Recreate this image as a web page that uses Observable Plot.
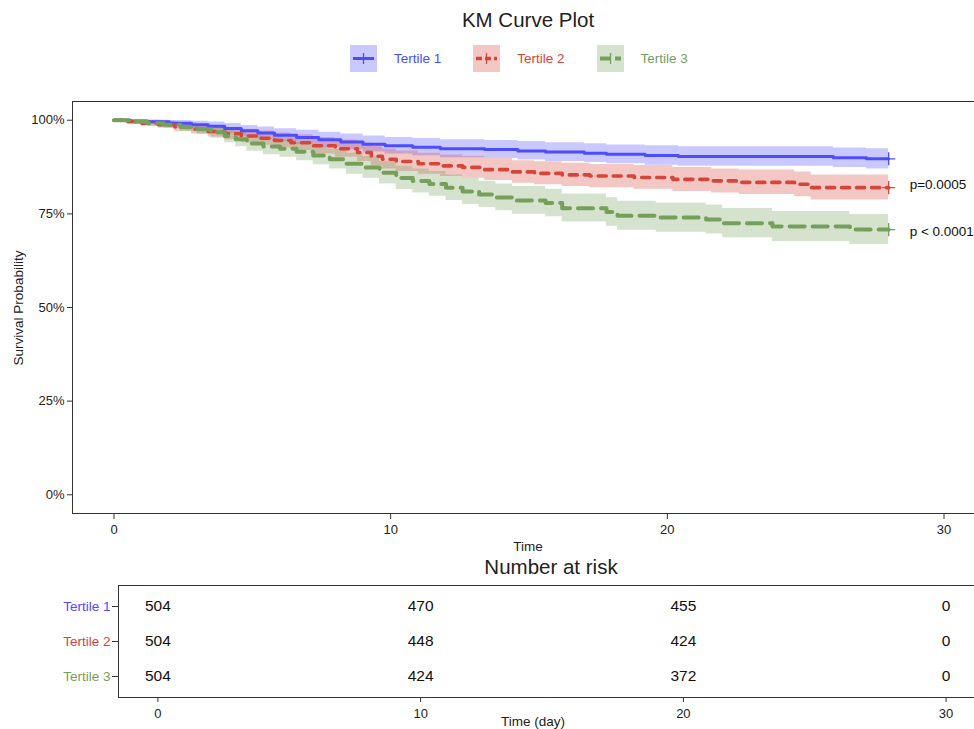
<!DOCTYPE html>
<html>
<head>
<meta charset="utf-8">
<script src="https://cdn.jsdelivr.net/npm/d3@7"></script>
<script src="https://cdn.jsdelivr.net/npm/@observablehq/plot@0.6"></script>
<style>
  html, body { margin: 0; padding: 0; overflow: hidden; background: white; }
  #wrap { position: relative; width: 974px; height: 729px; overflow: hidden; font-family: "Liberation Sans", Arial, sans-serif; color: #222; }
  .abs { position: absolute; white-space: nowrap; }
  .title { font-size: 20.5px; color: #222; transform: translate(-50%, -50%); }
  .axt { font-size: 13.5px; color: #222; transform: translate(-50%, -50%); }
  #legend { position: absolute; left: 350px; top: 44px; display: flex; align-items: center; height: 28px; }
  .item { display: flex; align-items: center; margin-right: 32px; }
  .item svg { margin-right: 17px; }
  .item span { font-size: 13.5px; }
  #main, #risk { width: 986px; }
  #main svg, #risk svg { max-width: none !important; display: block; }
</style>
</head>
<body>
<div id="wrap">
  <div class="abs title" style="left:528px; top:20px;">KM Curve Plot</div>
  <div id="legend"></div>
  <div id="main" class="abs" style="left:0; top:80px;"></div>
  <div class="abs axt" style="left:18px; top:308px; transform: translate(-50%,-50%) rotate(-90deg);">Survival Probability</div>
  <div class="abs axt" style="left:528px; top:546px;">Time</div>
  <div class="abs title" style="left:551px; top:567px;">Number at risk</div>
  <div id="risk" class="abs" style="left:0; top:575px;"></div>
  <div class="abs axt" style="left:533px; top:721px;">Time (day)</div>
</div>
<script>
// ---- Data ----
const seriesNames = ["Tertile 1", "Tertile 2", "Tertile 3"];

const t1Time  = [0, 0.6, 1.2, 2.0, 2.8, 3.4, 4.0, 4.6, 5.2, 5.8, 6.6, 7.4, 8.2, 9.0, 9.8, 10.8, 11.8, 13.4, 14.6, 15.6, 17.0, 17.8, 19.2, 20.4, 26.0, 27.2, 28.0];
const t1Surv  = [100, 99.8, 99.6, 99.2, 98.8, 98.4, 97.8, 97.2, 96.6, 96.0, 95.4, 94.8, 94.2, 93.6, 93.2, 92.8, 92.4, 92.2, 91.8, 91.5, 91.2, 90.9, 90.6, 90.3, 90.0, 89.7, 89.7];
const t1Lower = [100, 99.4, 99.0, 98.4, 97.8, 97.3, 96.5, 95.8, 95.0, 94.3, 93.5, 92.8, 92.1, 91.5, 91.0, 90.5, 90.0, 89.8, 89.4, 89.0, 88.7, 88.4, 88.0, 87.7, 87.4, 87.0, 87.0];
const t1Upper = [100, 100, 100, 99.9, 99.7, 99.5, 99.1, 98.6, 98.2, 97.7, 97.3, 96.8, 96.3, 95.8, 95.4, 95.1, 94.8, 94.6, 94.3, 94.0, 93.7, 93.4, 93.2, 92.9, 92.6, 92.4, 92.4];

const t2Time  = [0, 0.5, 1.0, 1.6, 2.2, 2.8, 3.4, 4.0, 4.6, 5.2, 5.8, 6.4, 7.2, 8.0, 8.8, 9.3, 9.7, 10.2, 11.0, 11.8, 12.6, 13.4, 14.4, 15.2, 16.2, 17.2, 18.8, 20.2, 21.6, 22.6, 24.6, 25.2, 28.0];
const t2Surv  = [100, 99.6, 99.2, 98.8, 98.2, 97.6, 97.0, 96.4, 95.8, 95.2, 94.6, 94.0, 93.2, 92.4, 91.4, 90.4, 89.6, 89.0, 88.4, 87.8, 87.4, 86.8, 86.2, 85.8, 85.4, 85.1, 84.7, 84.2, 83.8, 83.4, 82.9, 82.0, 82.0];
const t2Lower = [100, 99.1, 98.4, 97.9, 97.0, 96.3, 95.5, 94.8, 94.0, 93.3, 92.6, 91.9, 91.0, 90.1, 89.0, 87.8, 87.0, 86.3, 85.6, 85.0, 84.5, 83.9, 83.2, 82.8, 82.3, 82.0, 81.6, 81.0, 80.6, 80.2, 79.6, 78.7, 78.7];
const t2Upper = [100, 100, 100, 99.7, 99.4, 99.0, 98.5, 98.0, 97.6, 97.1, 96.6, 96.1, 95.4, 94.7, 93.9, 93.0, 92.3, 91.8, 91.2, 90.7, 90.3, 89.8, 89.2, 88.9, 88.5, 88.2, 87.9, 87.4, 87.0, 86.7, 86.2, 85.4, 85.4];

const t3Time  = [0, 0.6, 1.2, 1.8, 2.4, 3.0, 3.5, 4.0, 4.4, 4.8, 5.4, 6.0, 6.6, 7.2, 7.8, 8.4, 9.0, 9.6, 10.2, 10.8, 11.4, 12.0, 12.6, 13.2, 13.8, 14.4, 15.6, 16.2, 17.8, 18.2, 19.6, 21.4, 22.0, 23.8, 26.6, 28.0];
const t3Surv  = [100, 99.6, 99.2, 98.8, 98.2, 97.6, 96.8, 95.8, 94.9, 93.8, 93.0, 92.4, 91.6, 90.6, 89.6, 88.4, 87.4, 86.0, 84.6, 83.8, 83.0, 82.0, 81.0, 80.2, 79.4, 78.6, 77.9, 76.5, 75.5, 74.5, 74.0, 73.5, 72.5, 71.6, 70.8, 70.8];
const t3Lower = [100, 99.1, 98.4, 97.8, 97.0, 96.2, 95.2, 94.0, 92.9, 91.7, 90.8, 90.1, 89.2, 88.1, 87.0, 85.6, 84.5, 83.0, 81.5, 80.6, 79.7, 78.6, 77.5, 76.7, 75.8, 74.9, 74.2, 72.8, 71.7, 70.6, 70.1, 69.6, 68.6, 67.6, 66.8, 66.8];
const t3Upper = [100, 100, 100, 99.7, 99.4, 99.0, 98.4, 97.6, 96.9, 95.9, 95.2, 94.7, 94.0, 93.1, 92.2, 91.2, 90.3, 89.0, 87.7, 87.0, 86.3, 85.4, 84.5, 83.7, 83.0, 82.3, 81.6, 80.3, 79.3, 78.4, 77.9, 77.4, 76.4, 75.6, 74.8, 74.8];

const riskTimes = [0, 10, 20, 30];
const riskT1 = [504, 470, 455, 0];
const riskT2 = [504, 448, 424, 0];
const riskT3 = [504, 424, 372, 0];

const pLabels = ["p=0.0005", "p < 0.0001"];
const pTime = [28, 28];
const pValueY = [82.8, 70.3];

const xTicks = [0, 10, 20, 30];
const yTicks = [0, 25, 50, 75, 100];

// ---- Styles ----
const style = {
  colors: ["#4D4DFF", "#D6453A", "#74A05A"],
  dash: [null, "8,7", "15,8"],
  width: [3, 3.6, 4],
  font: '"Liberation Sans", Arial, sans-serif'
};

// ---- Build tables ----
const times = [t1Time, t2Time, t3Time];
const survs = [t1Surv, t2Surv, t3Surv];
const lowers = [t1Lower, t2Lower, t3Lower];
const uppers = [t1Upper, t2Upper, t3Upper];
const risks = [riskT1, riskT2, riskT3];

const km = seriesNames.flatMap((name, i) =>
  times[i].map((t, j) => ({series: name, t, s: survs[i][j], lo: lowers[i][j], hi: uppers[i][j]})));
const ends = seriesNames.map((name, i) => ({series: name, t: times[i][times[i].length - 1], s: survs[i][survs[i].length - 1]}));
const riskData = seriesNames.flatMap((name, i) => riskTimes.map((t, j) => ({series: name, t, n: risks[i][j]})));
const pData = pLabels.map((label, i) => ({label, t: pTime[i], y: pValueY[i]}));

const colorScale = {domain: seriesNames, range: style.colors};

// ---- Main plot ----
const main = Plot.plot({
  width: 986, height: 480,
  marginTop: 21, marginBottom: 47, marginLeft: 72, marginRight: 1,
  style: {fontFamily: style.font, fontSize: "13px", color: "#222", background: "white", overflow: "visible", maxWidth: "none"},
  x: {domain: [-1.5, 31.5]},
  y: {domain: [-5, 105]},
  color: colorScale,
  marks: [
    Plot.areaY(km, {x: "t", y1: "lo", y2: "hi", z: "series", fill: "series", fillOpacity: 0.3, curve: "step-after"}),
    ...seriesNames.map((name, i) => Plot.line(km.filter(d => d.series === name), {
      x: "t", y: "s", stroke: style.colors[i], strokeWidth: style.width[i],
      strokeDasharray: style.dash[i], curve: "step-after"
    })),
    Plot.dot(ends, {x: "t", y: "s", stroke: "series", symbol: "plus", r: 4.3, strokeWidth: 1.3}),
    Plot.text(pData, {x: "t", y: "y", text: "label", dx: 21, textAnchor: "start", fontSize: 13.5, fill: "#111"}),
    Plot.frame({stroke: "#333", strokeWidth: 1}),
    Plot.axisX({ticks: xTicks, tickSize: 6, tickPadding: 5, label: null, stroke: "#333", fill: "#222"}),
    Plot.axisY({ticks: yTicks, tickFormat: d => d + "%", tickSize: 5, tickPadding: 3, label: null, stroke: "#333", fill: "#222"})
  ]
});
document.getElementById("main").appendChild(main);

// ---- Risk table ----
const risk = Plot.plot({
  width: 986, height: 150,
  marginTop: 10, marginBottom: 28, marginLeft: 118, marginRight: 1,
  style: {fontFamily: style.font, fontSize: "13px", color: "#222", background: "white", overflow: "visible", maxWidth: "none"},
  x: {domain: [-1.5, 31.5]},
  y: {type: "point", domain: seriesNames, padding: 0.6},
  color: colorScale,
  marks: [
    Plot.frame({stroke: "#333", strokeWidth: 1}),
    Plot.text(riskData, {x: "t", y: "series", text: d => String(d.n), fontSize: 15.5, fill: "#111"}),
    Plot.text(seriesNames, {y: d => d, frameAnchor: "left", dx: -8, textAnchor: "end", fill: d => d, fontSize: 13.5}),
    Plot.axisX({ticks: xTicks, tickSize: 5, tickPadding: 6, label: null, stroke: "#333", fill: "#222"}),
    Plot.axisY({tickSize: 6, tickFormat: () => "", label: null, stroke: "#333"})
  ]
});
document.getElementById("risk").appendChild(risk);

// ---- Legend ----
const legend = document.getElementById("legend");
seriesNames.forEach((name, i) => {
  const item = document.createElement("div");
  item.className = "item";
  const c = style.colors[i];
  const dash = style.dash[i] ? `stroke-dasharray="${style.dash[i] === "8,7" ? "6,3" : "11,4"}"` : "";
  item.innerHTML = `<svg width="27" height="27" viewBox="0 0 27 27">
      <rect x="0" y="0" width="27" height="27" fill="${c}" fill-opacity="0.3"/>
      <line x1="3" x2="24" y1="13.5" y2="13.5" stroke="${c}" stroke-width="${style.width[i]}" ${dash}/>
      <line x1="13.5" x2="13.5" y1="8" y2="19" stroke="${c}" stroke-width="1.3"/>
    </svg><span style="color:${c}">${name}</span>`;
  legend.appendChild(item);
});
</script>
</body>
</html>
